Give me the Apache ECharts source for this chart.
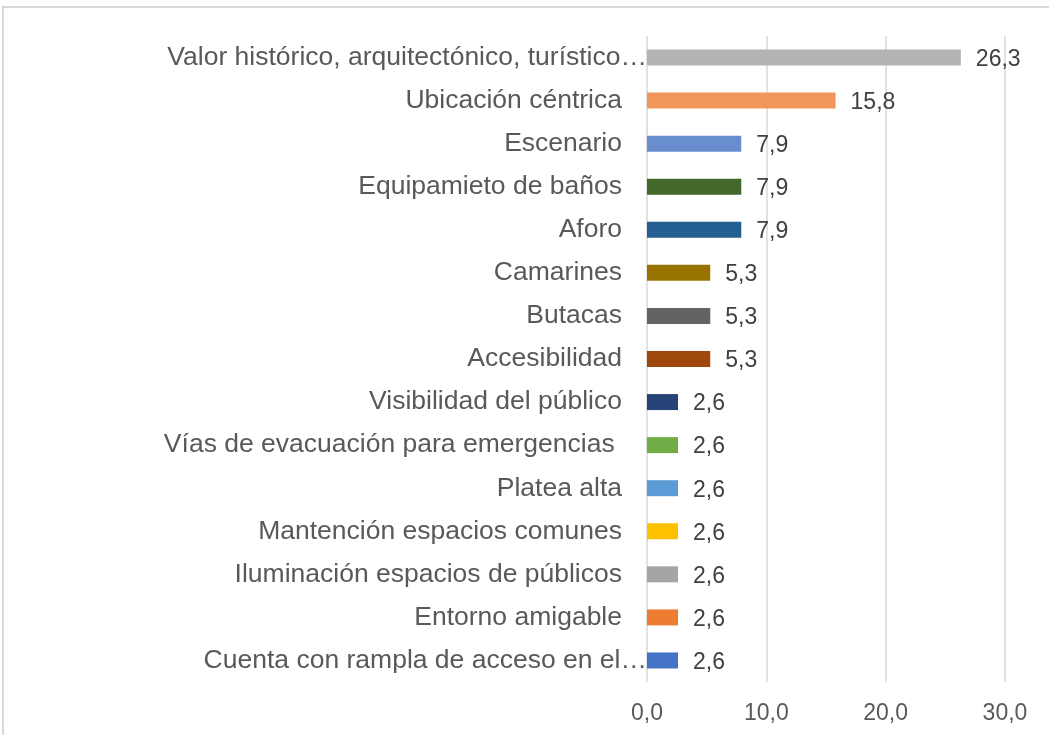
<!DOCTYPE html>
<html>
<head>
<meta charset="utf-8">
<script src="https://cdn.jsdelivr.net/npm/echarts@6/dist/echarts.min.js"></script>
<style>
  html, body { margin: 0; padding: 0; background: #fff; overflow: hidden; }
  #frame { position: absolute; left: 2px; top: 6px; width: 1200px; height: 900px;
           border-top: 2px solid #d9d9d9; border-left: 2px solid #d9d9d9; }
  #main { position: absolute; left: 0; top: 0; width: 1049px; height: 735px; }
</style>
</head>
<body>
<div id="frame"></div>
<div id="main"></div>
<script>
// categorias de arriba hacia abajo
const categorias = [
  'Valor histórico, arquitectónico, turístico…',
  'Ubicación céntrica',
  'Escenario',
  'Equipamieto de baños',
  'Aforo',
  'Camarines',
  'Butacas',
  'Accesibilidad',
  'Visibilidad del público',
  'Vías de evacuación para emergencias ',
  'Platea alta',
  'Mantención espacios comunes',
  'Iluminación espacios de públicos',
  'Entorno amigable',
  'Cuenta con rampla de acceso en el…'
]
const valores = [26.3, 15.8, 7.9, 7.9, 7.9, 5.3, 5.3, 5.3, 2.6, 2.6, 2.6, 2.6, 2.6, 2.6, 2.6]
const colores = ['#B4B4B4', '#F1975A', '#698ED0', '#43682B', '#255E91', '#997300', '#636363',
  '#9E480E', '#264478', '#70AD47', '#5B9BD5', '#FFC000', '#A5A5A5', '#ED7D31', '#4472C4']
const ticksX = [0, 10, 20, 30]

const coma = v => Number(v).toFixed(1).replace('.', ',')

// las etiquetas recortadas llegan hasta el eje, como en Excel
const etiquetas = categorias.map(c => c.endsWith('…')
  ? { value: c, textStyle: { padding: [0, -25, 0, 0] } }
  : c)

const myChart = echarts.init(document.getElementById('main'))
myChart.setOption({
  animation: false,
  textStyle: { fontFamily: 'Liberation Sans, Arial, sans-serif' },
  grid: { left: 647, right: 44, top: 36, bottom: 53 },
  xAxis: {
    type: 'value',
    min: ticksX[0],
    max: ticksX[ticksX.length - 1],
    interval: 10,
    axisLine: { show: false },
    axisTick: { show: false },
    splitLine: { lineStyle: { color: '#d9d9d9', width: 1.5 } },
    axisLabel: { formatter: coma, color: '#595959', fontSize: 23, margin: 20 }
  },
  yAxis: {
    type: 'category',
    inverse: true,
    data: etiquetas,
    axisLine: { show: false },
    axisTick: { show: false },
    axisLabel: { color: '#595959', fontSize: 26.5, margin: 25 }
  },
  series: [{
    type: 'bar',
    barWidth: 16,
    data: valores.map((v, i) => ({ value: v, itemStyle: { color: colores[i] } })),
    label: {
      show: true,
      position: 'right',
      distance: 15,
      color: '#404040',
      fontSize: 23,
      offset: [0, 2],
      formatter: p => coma(p.value)
    }
  }]
})
</script>
</body>
</html>
